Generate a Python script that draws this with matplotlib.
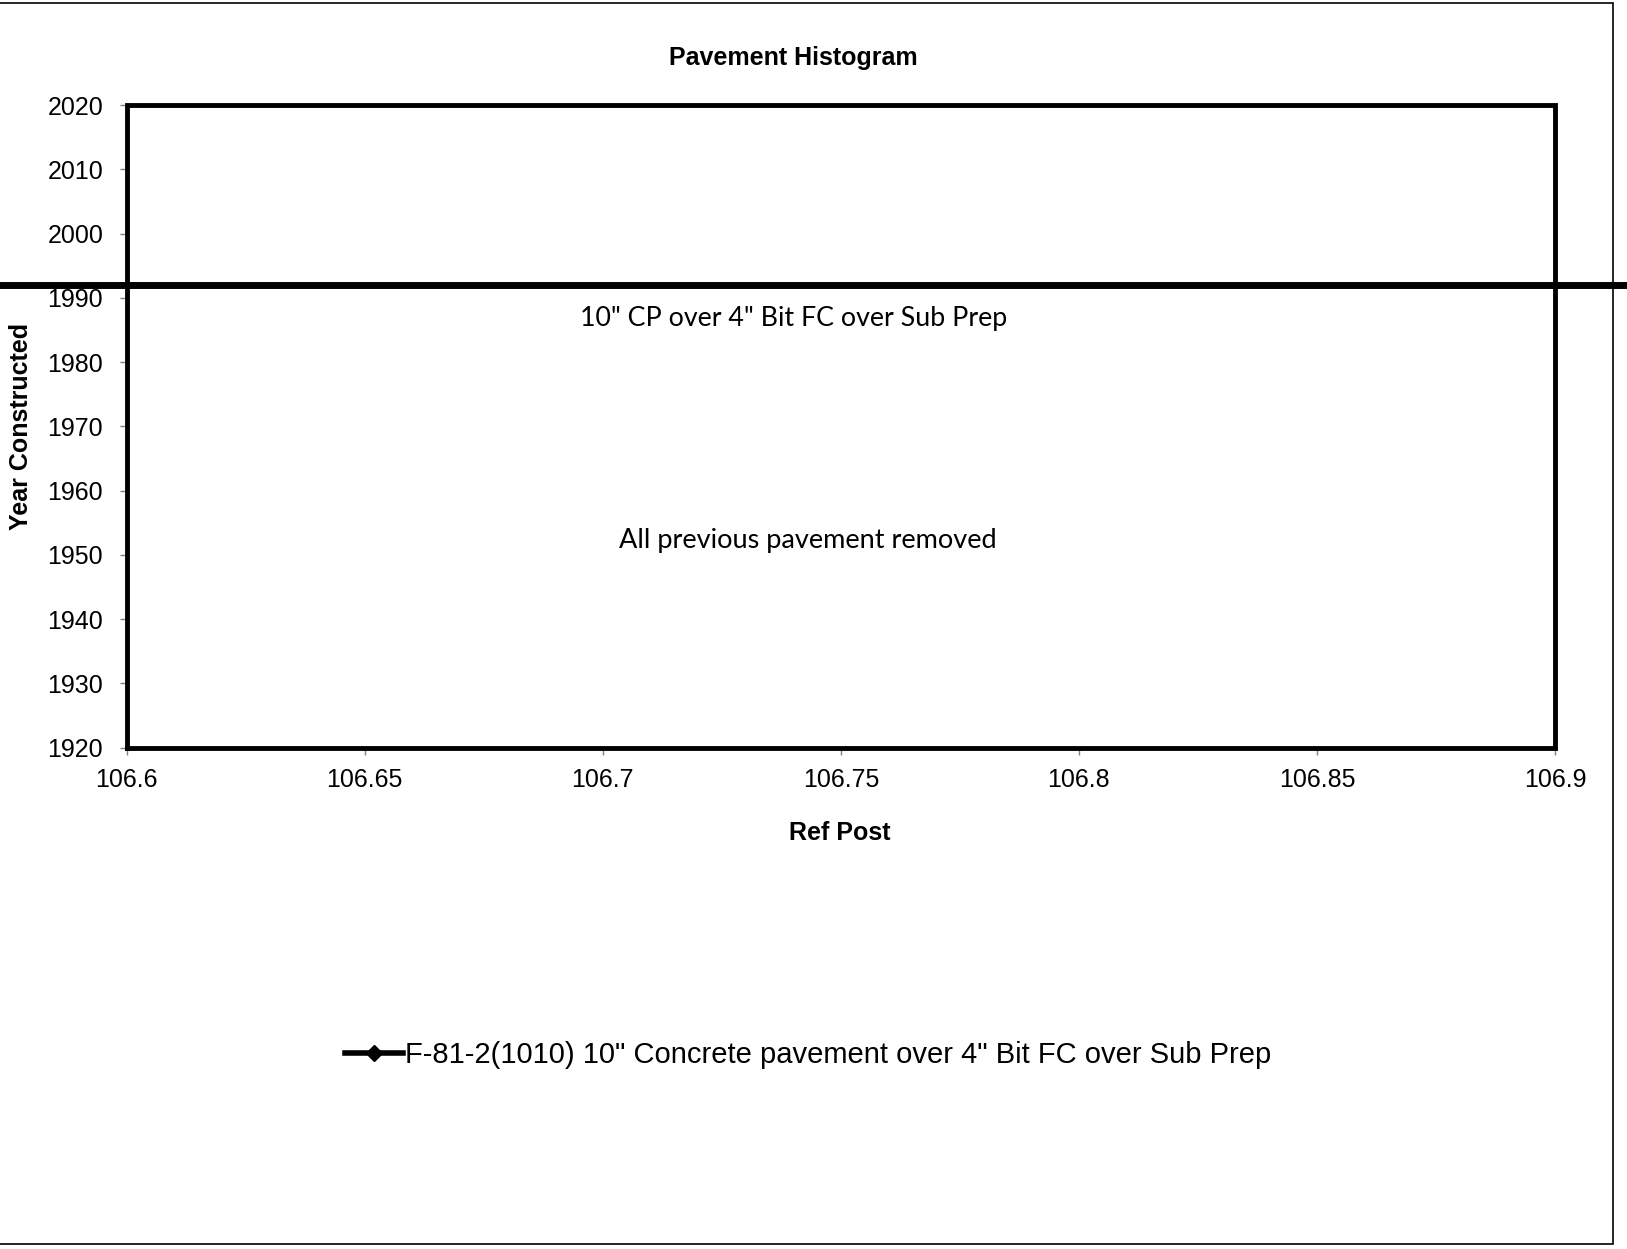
import matplotlib
matplotlib.use("Agg")
import matplotlib.pyplot as plt
from matplotlib.patches import Rectangle
from matplotlib.ticker import FuncFormatter, MultipleLocator

# Section limits and construction year
REF_START   = 106.6
REF_END     = 106.9
YEAR_BOTTOM = 1920
YEAR_TOP    = 2020
YEAR_BUILT  = 1992

SERIES_LABEL = 'F-81-2(1010) 10" Concrete pavement over 4" Bit FC over Sub Prep'
LAYER_NOTE   = '10" CP over 4" Bit FC over Sub Prep'
BASE_NOTE    = 'All previous pavement removed'

plt.rcParams['font.family'] = ['Liberation Sans', 'DejaVu Sans']

fig = plt.figure(figsize=(16.27, 12.49), dpi=100)
ax = fig.add_axes([0.0779, 0.4014, 0.8778, 0.5145])

# pavement box
box_x = [REF_START, REF_START, REF_END, REF_END, REF_START]
box_y = [YEAR_BOTTOM, YEAR_TOP, YEAR_TOP, YEAR_BOTTOM, YEAR_BOTTOM]
ax.plot(box_x, box_y, color='black', lw=3.5, clip_on=False,
        solid_joinstyle='miter', zorder=3)

# construction year line, runs across the whole chart
ax.axhline(YEAR_BUILT, xmin=-0.2, xmax=1.2, color='black', lw=5,
           clip_on=False, zorder=3)

# legend entry
ax.plot([], [], color='black', lw=4, marker='D', ms=8, label=SERIES_LABEL)

ax.text(106.74, 1986.8, LAYER_NOTE, ha='center', va='center',
        fontsize=19.3, family=['Lato', 'DejaVu Sans'])
ax.text(106.743, 1952.2, BASE_NOTE, ha='center', va='center',
        fontsize=19.5, family=['Lato', 'DejaVu Sans'])

ax.set_xlim(REF_START, REF_END)
ax.set_ylim(YEAR_BOTTOM, YEAR_TOP)
ax.xaxis.set_major_locator(MultipleLocator(0.05))
ax.yaxis.set_major_locator(MultipleLocator(10))
ax.xaxis.set_major_formatter(FuncFormatter(lambda v, p: f"{v:g}"))
ax.yaxis.set_major_formatter(FuncFormatter(lambda v, p: f"{v:g}"))
ax.tick_params(axis='both', labelsize=18, color='#808080', width=1, length=5)
ax.tick_params(axis='y', pad=12)
ax.tick_params(axis='x', pad=10)
for s in ax.spines.values():
    s.set_visible(False)

fig.text(793 / 1627, 1 - 58 / 1249, 'Pavement Histogram', ha='center',
         va='center', fontsize=18, fontweight='bold')
fig.text(840 / 1627, 1 - 833 / 1249, 'Ref Post', ha='center', va='center',
         fontsize=18, fontweight='bold')
fig.text(21 / 1627, 1 - 426 / 1249, 'Year Constructed', ha='center',
         va='center', rotation=90, fontsize=18, fontweight='bold')

fig.legend(loc='center', bbox_to_anchor=(808 / 1627, 1 - 1055 / 1249),
           frameon=False, fontsize=21, handlelength=2.0, handletextpad=0.05)

# chart border
fig.patches.append(Rectangle((-0.01, 5 / 1249), 1613 / 1627 + 0.01,
                             1 - 8 / 1249, transform=fig.transFigure,
                             fill=False, edgecolor='black', lw=1.2))

fig.savefig('out.png', dpi=100, facecolor='white')
